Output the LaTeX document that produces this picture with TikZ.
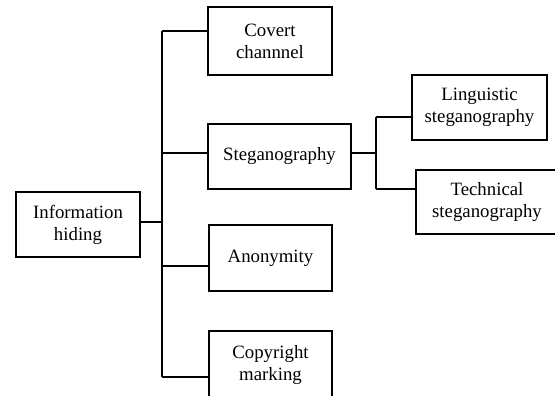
\documentclass[tikz,border=0pt]{standalone}
\usepackage{fontspec}
\setmainfont{Liberation Serif}
\begin{document}
\begin{tikzpicture}[x=1pt,y=-1pt,
  box/.style={draw=black, line width=1.9pt, fill=white, align=center, inner sep=0pt,
    font=\fontsize{18.8}{22}\selectfont},
  conn/.style={draw=black, line width=1.9pt}]
\useasboundingbox (0,0) rectangle (555,396);
\begin{scope}
\clip (0,0) rectangle (555,396);
% nodes
\node[box, minimum width=124pt, minimum height=65pt] (info) at (78,224.5) {Information\\hiding};
\node[box, minimum width=124pt, minimum height=68pt] (cov) at (270,41) {Covert\\channnel};
\node[box, minimum width=143pt, minimum height=65pt] (steg) at (279.5,156.5) {Steganography};
\node[box, minimum width=123pt, minimum height=66pt] (anon) at (270.5,258) {Anonymity};
\node[box, minimum width=123pt, minimum height=68pt] (copy) at (270.5,365) {Copyright\\marking};
\node[box, minimum width=135pt, minimum height=65pt] (ling) at (479.5,107.5) {Linguistic\\steganography};
\node[box, minimum width=142pt, minimum height=64pt] (tech) at (487,202) {Technical\\steganography};
% bus coordinates
\coordinate (b1) at (162,31);
\coordinate (b2) at (162,153);
\coordinate (b3) at (162,222);
\coordinate (b4) at (162,266);
\coordinate (b5) at (162,377);
\coordinate (s1) at (376,117);
\coordinate (s0) at (376,153);
\coordinate (s2) at (376,189);
% connectors
\draw[conn] (b1) -- (b5);
\draw[conn] (b3 -| info.east) -- (b3);
\draw[conn] (b1) -- (b1 -| cov.west);
\draw[conn] (b2) -- (b2 -| steg.west);
\draw[conn] (b4) -- (b4 -| anon.west);
\draw[conn] (b5) -- (b5 -| copy.west);
\draw[conn] (s0 -| steg.east) -- (s0);
\draw[conn] (s1) -- (s2);
\draw[conn] (s1) -- (s1 -| ling.west);
\draw[conn] (s2) -- (s2 -| tech.west);
\end{scope}
\end{tikzpicture}
\end{document}
